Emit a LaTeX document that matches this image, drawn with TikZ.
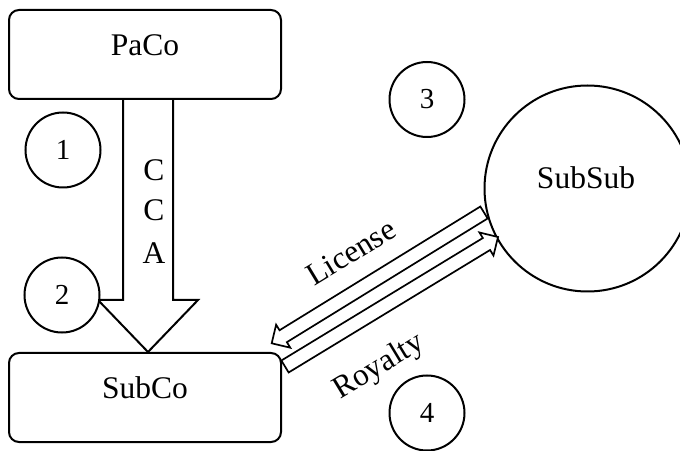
\documentclass[tikz,border=0pt]{standalone}
\usepackage{fontspec}
\setmainfont{Liberation Serif}
\usetikzlibrary{calc}

% Hollow block arrow from #1 (tail) to #2 (tip)
\newcommand\blockarrow[2]{%
  \draw[hollowarrow] let \p1=(#1), \p2=(#2),
      \n1={atan2(\y2-\y1,\x2-\x1)},
      \n2={veclen(\x2-\x1,\y2-\y1)-13.5}
    in (#1) ++(\n1-90:7) -- ++(\n1:\n2) -- ++(\n1-90:6.5) -- (#2)
       -- ++(\n1+135:19.09) -- ++(\n1-90:6.5) -- ++(\n1+180:\n2) -- cycle;}

\begin{document}
\begin{tikzpicture}[x=1pt,y=1pt,
  inkline/.style={draw=black, line width=2pt},
  company/.style={inkline, rounded corners=10pt, minimum width=272pt,
    minimum height=89pt, inner sep=0pt},
  badge/.style={inkline, circle, fill=white, minimum size=75pt, inner sep=0pt,
    font=\fontsize{29}{34}\selectfont},
  caption/.style={font=\fontsize{31.5}{36}\selectfont, inner sep=0pt},
  hollowarrow/.style={draw=black, line width=1.7pt, line join=miter, fill=white},
]
\useasboundingbox (0,0) rectangle (680,450);

% companies
\node[company] (paco) at (145,395.5) {};
\node[caption] (paco-name) at (145,405) {PaCo};
\node[company] (subco) at (145,52.5) {};
\node[caption] (subco-name) at (145,62) {SubCo};
\node[inkline, circle, minimum size=206pt, inner sep=0pt] (subsub) at (587.5,261.5) {};
\node[caption] (subsub-name) at (586,272) {SubSub};

% CCA block arrow between PaCo and SubCo
\coordinate (cca-top) at ([xshift=3pt]paco.south);
\coordinate (cca-tip) at ([xshift=3pt]subco.north);
\draw[inkline, line join=miter]
  ($(cca-top)+(-25,0)$) -- ($(cca-tip)+(-25,52)$) -- ($(cca-tip)+(-50,52)$)
  -- (cca-tip) -- ($(cca-tip)+(50,52)$) -- ($(cca-tip)+(25,52)$)
  -- ($(cca-top)+(25,0)$);
\node[caption] (cca-c1) at (154,280) {C};
\node[caption] (cca-c2) at (154,240) {C};
\node[caption] (cca-a)  at (154,197) {A};

% numbered steps
\node[badge] (step1) at (63,300) {1};
\node[badge] (step2) at (62,155) {2};
\node[badge] (step3) at (427,350.5) {3};
\node[badge] (step4) at (427,37) {4};

% license and royalty flows
\coordinate (lic-tail) at (484,237.5);
\coordinate (lic-tip)  at (271.7,106.7);
\coordinate (roy-tail) at (285,83.5);
\coordinate (roy-tip)  at (498,213);
\blockarrow{lic-tail}{lic-tip}
\blockarrow{roy-tail}{roy-tip}
\node[caption, rotate=31.2] (license) at (351,198) {License};
\node[caption, rotate=31.2] (royalty) at (379,83) {Royalty};
\end{tikzpicture}
\end{document}
